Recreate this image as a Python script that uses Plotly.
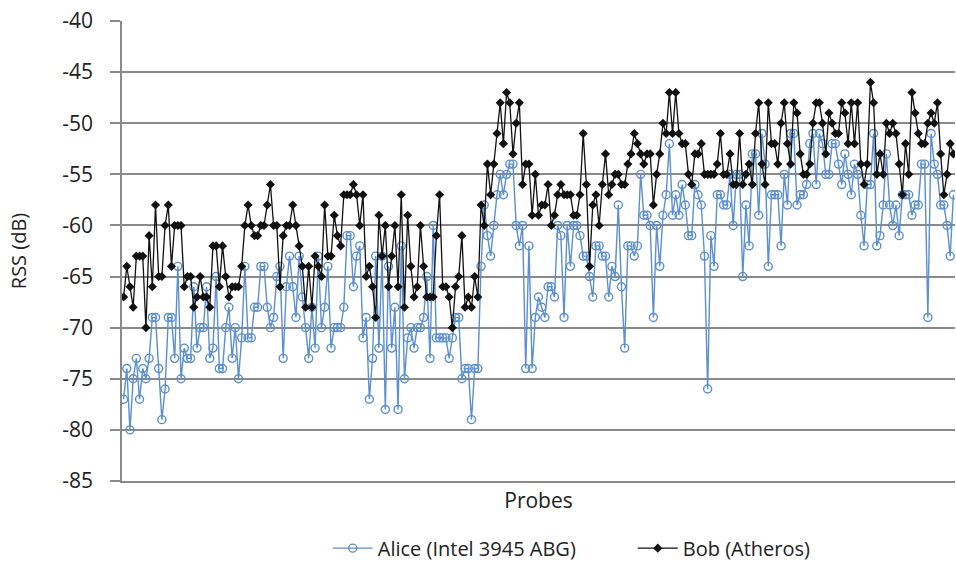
import plotly.graph_objects as go

# Received signal strength per probe, in dB
alice_rss = [
    -77, -74, -80, -75, -73, -77, -74, -75, -73, -69, -69, -74, -79, -76, -69, -69, -73, -64, -75, -72,
    -73, -73, -66, -72, -70, -70, -66, -73, -72, -65, -74, -74, -70, -68, -73, -70, -75, -71, -64,
    -71, -71, -68, -68, -64, -64, -68, -70, -69, -65, -64, -73, -66, -63, -66, -69, -63, -67, -70, -73,
    -68, -72, -63, -70, -68, -64, -72, -70, -70, -70, -68, -61, -61, -66, -63, -62, -71, -69, -77, -73,
    -63, -72, -63, -78,
    -64, -72, -68, -78, -62, -75, -71, -70, -72, -70, -70, -69, -65, -73, -60, -71, -71, -71, -71, -73,
    -71, -69, -69, -75, -74, -74, -79, -74, -74, -64, -58, -61, -63, -60, -57, -55, -57, -55, -54, -54,
    -60, -62, -60, -74,
    -62, -74, -69, -67, -68, -69, -66, -66, -67, -60, -61, -69, -60, -64, -60, -60, -61, -63, -63, -65,
    -67, -62, -62, -63, -63, -67, -64, -65, -58, -66, -72, -62, -62, -63, -62, -55, -59, -59, -60, -69,
    -60, -64, -59, -57, -52, -59,
    -57, -59, -56, -58, -61, -61, -56, -57, -58, -63, -76, -61, -64, -57, -57, -58, -58, -55, -60, -55,
    -55, -65, -58, -62, -53, -53, -59, -51, -54, -64, -57, -57, -57, -62, -55, -58, -51, -51, -58, -57,
    -57, -56, -52, -51,
    -56, -51, -52, -55, -55, -52, -52, -54, -56, -53, -55, -57, -54, -55, -59, -62, -56, -56, -51, -62,
    -61, -58, -53, -58, -60, -58, -61, -57, -57, -57, -59, -58, -58, -54, -54, -69, -51, -54, -55, -58,
    -58, -60, -63, -57,
]

bob_rss = [
    -67, -64, -66, -68, -63, -63, -63, -70, -61, -66, -58, -65, -65, -60, -58, -64, -60, -60, -60, -66,
    -65, -65, -68, -67, -65, -67, -67, -68, -62, -62, -66, -62, -65, -67, -66, -66, -66, -64, -60,
    -58, -60, -61, -61, -60, -60, -58, -56, -60, -60, -66, -61, -60, -60, -58, -60, -62, -64, -68, -64,
    -68, -63, -64, -65, -58, -63, -63, -59, -61, -62, -57, -57, -57, -56, -57, -60, -57, -65, -64, -66,
    -69, -59, -63, -60, -66,
    -63, -60, -66, -57, -68, -59, -64, -67, -66, -60, -64, -67, -67, -67, -61, -57, -66, -66, -67, -70,
    -66, -65, -61, -68, -67, -68, -65, -67, -58, -60, -54, -57, -54, -51, -48, -52, -47, -48, -53, -50,
    -48, -56, -54, -54, -59,
    -55, -59, -58, -58, -56, -60, -59, -57, -56, -57, -57, -57, -59, -59, -57, -51, -56, -64, -58, -57,
    -60, -56, -53, -57, -56, -55, -55, -56, -56, -54, -53, -51, -52, -53, -54, -53, -53, -58, -55, -53,
    -50, -51, -47, -51,
    -47, -51, -52, -52, -55, -56, -53, -53, -52, -55, -55, -55, -55, -54, -51, -55, -55, -53, -56, -56,
    -51, -56, -55, -54, -56, -51, -48, -54, -56, -48, -52, -52, -54, -50, -48, -52, -54, -48, -49, -53,
    -55, -55, -54, -50, -48,
    -48, -50, -53, -49, -50, -51, -51, -48, -49, -52, -48, -52, -48, -54, -56, -54, -46, -48, -55, -53,
    -55, -50, -51, -50, -51, -54, -57, -52, -55, -47, -49, -51, -52, -52, -50, -49, -50, -48, -53, -57,
    -55, -52, -53, -55,
]

n = min(len(alice_rss), len(bob_rss))
probes = list(range(1, n + 1))

y_ticks = [-85, -80, -75, -70, -65, -60, -55, -50, -45, -40]
y_tick_labels = [str(v) for v in y_ticks]

font_family = "Open Sans, Noto Sans, sans-serif"
grid_color = "#8a8a8a"
alice_color = "#5b8fd0"

fig = go.Figure()

fig.add_trace(go.Scatter(
    x=probes, y=alice_rss[:n], mode="lines+markers",
    name="Alice (Intel 3945 ABG)",
    line=dict(color=alice_color, width=1.4),
    marker=dict(symbol="circle-open", size=8, color=alice_color, line=dict(width=1.4)),
))

fig.add_trace(go.Scatter(
    x=probes, y=bob_rss[:n], mode="lines+markers",
    name="Bob (Atheros)",
    line=dict(color="#111111", width=1.3),
    marker=dict(symbol="diamond", size=7, color="#111111"),
))

fig.update_layout(
    width=956, height=567,
    margin=dict(l=122, r=1, t=21, b=86, autoexpand=False),
    paper_bgcolor="white", plot_bgcolor="white",
    font=dict(family=font_family, size=20, color="#222222"),
    showlegend=True,
    legend=dict(
        orientation="h", x=0.247, xanchor="left", y=-0.146, yanchor="middle",
        font=dict(size=20, color="#222222"),
        itemwidth=40, entrywidth=250, entrywidthmode="pixels",
        traceorder="normal",
    ),
    xaxis=dict(
        range=[0.5, n + 0.5], showticklabels=False, ticks="",
        showgrid=False, zeroline=False,
        showline=True, linecolor=grid_color, linewidth=1.5,
        title=dict(text="Probes", font=dict(size=21), standoff=12),
    ),
    yaxis=dict(
        range=[-85, -40], tickvals=y_ticks, ticktext=y_tick_labels,
        ticks="outside", ticklen=10, tickcolor=grid_color, tickwidth=1.5,
        showgrid=True, gridcolor=grid_color, gridwidth=1.5, zeroline=False,
        showline=True, linecolor=grid_color, linewidth=1.5,
        tickfont=dict(size=21), ticklabelstandoff=13,
        title=dict(text="RSS (dB)", font=dict(size=20), standoff=30),
    ),
)

fig.write_html("out.html")
